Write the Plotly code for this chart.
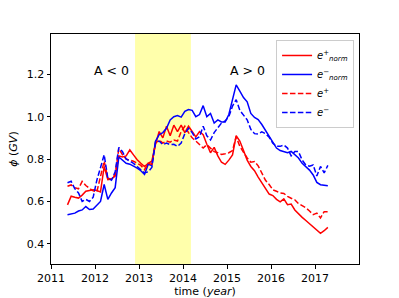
import plotly.graph_objects as go

# monthly time stamps (decimal years) May 2011 - Apr 2017
years_start = 2011.375
n_points = 72
time = [round(years_start + i / 12, 4) for i in range(n_points)]

e_pos_norm = [0.584, 0.625, 0.62, 0.616, 0.63, 0.648, 0.652, 0.655,
              0.652, 0.645, 0.765, 0.703, 0.706, 0.72, 0.815, 0.81, 0.815, 0.843, 0.82, 0.797,
              0.78, 0.765, 0.78, 0.79, 0.87, 0.93, 0.90, 0.955, 0.91, 0.96, 0.93, 0.96,
              0.925, 0.955, 0.93, 0.905, 0.93, 0.915, 0.87, 0.83, 0.855, 0.815, 0.785, 0.775,
              0.795, 0.82, 0.91, 0.885, 0.84, 0.795, 0.765, 0.745, 0.715, 0.69, 0.665, 0.635,
              0.628, 0.61, 0.598, 0.612, 0.585, 0.588, 0.56, 0.54, 0.525, 0.51, 0.495, 0.482,
              0.468, 0.45, 0.462, 0.478]

e_neg_norm = [0.537, 0.542, 0.545, 0.555, 0.560, 0.576, 0.562, 0.564,
              0.584, 0.60, 0.68, 0.61, 0.64, 0.665, 0.81, 0.795, 0.78, 0.776, 0.768, 0.757,
              0.745, 0.728, 0.775, 0.77, 0.884, 0.915, 0.925, 0.945, 0.985, 1.0, 1.005, 0.998,
              1.025, 1.034, 1.03, 1.0, 1.01, 1.052, 1.0, 1.015, 0.97, 0.985, 0.975, 0.975,
              1.01, 1.075, 1.15, 1.12, 1.09, 1.07, 1.015, 0.996, 0.986, 0.963, 0.935, 0.91,
              0.878, 0.852, 0.84, 0.836, 0.83, 0.836, 0.821, 0.805, 0.78, 0.764, 0.748, 0.725,
              0.69, 0.679, 0.677, 0.674]

e_pos = [0.672, 0.678, 0.665, 0.66, 0.695, 0.675, 0.662, 0.65,
         0.645, 0.72, 0.79, 0.71, 0.705, 0.728, 0.85, 0.82, 0.80, 0.795, 0.79, 0.78,
         0.77, 0.75, 0.78, 0.775, 0.875, 0.89, 0.875, 0.885, 0.88, 0.89, 0.885, 0.93,
         0.955, 0.925, 0.90, 0.885, 0.87, 0.852, 0.868, 0.85, 0.835, 0.83, 0.822, 0.825,
         0.83, 0.84, 0.905, 0.86, 0.83, 0.805, 0.785, 0.788, 0.768, 0.735, 0.70, 0.68,
         0.655, 0.648, 0.64, 0.638, 0.624, 0.615, 0.608, 0.59, 0.58, 0.57, 0.555, 0.538,
         0.545, 0.522, 0.552, 0.552]

e_neg = [0.688, 0.695, 0.66, 0.64, 0.60, 0.61, 0.60, 0.62,
         0.70, 0.76, 0.82, 0.71, 0.70, 0.74, 0.855, 0.835, 0.80, 0.79, 0.78, 0.765,
         0.75, 0.735, 0.74, 0.76, 0.88, 0.885, 0.868, 0.875, 0.868, 0.87, 0.86, 0.876,
         0.92, 0.945, 0.925, 0.895, 0.905, 0.955, 0.91, 0.89, 0.925, 0.95, 0.97, 0.98,
         1.00, 1.05, 1.08, 1.03, 1.01, 0.985, 0.94, 0.92, 0.918, 0.928, 0.92, 0.903,
         0.875, 0.86, 0.86, 0.866, 0.852, 0.815, 0.836, 0.835, 0.795, 0.772, 0.766, 0.772,
         0.72, 0.765, 0.735, 0.77]

x_ticks = [2011, 2012, 2013, 2014, 2015, 2016, 2017]
y_ticks = [0.4, 0.6, 0.8, 1.0, 1.2]
band = [2012.91, 2014.18]
annotations_text = ["A < 0", "A > 0"]
annotations_pos = [(2012.37, 1.218), (2015.47, 1.218)]

series = [
    ("<i>e</i><sup>+</sup><sub><i>norm</i></sub>", e_pos_norm, "#ff0000", "solid"),
    ("<i>e</i><sup>−</sup><sub><i>norm</i></sub>", e_neg_norm, "#0000ff", "solid"),
    ("<i>e</i><sup>+</sup>", e_pos, "#ff0000", "5.5px,2.4px"),
    ("<i>e</i><sup>−</sup>", e_neg, "#0000ff", "5.5px,2.4px"),
]

fig = go.Figure()
for name, vals, col, dash in series:
    fig.add_trace(go.Scatter(x=time, y=vals, mode="lines", name=name,
                             line=dict(color=col, width=1.5, dash=dash)))

fig.add_vrect(x0=band[0], x1=band[1], fillcolor="rgba(255,255,0,0.33)",
              line_width=0, layer="below")

for txt, (ax, ay) in zip(annotations_text, annotations_pos):
    fig.add_annotation(x=ax, y=ay, text=txt, showarrow=False,
                       font=dict(size=12.5, color="black"))

font_family = "DejaVu Sans"
fig.update_layout(
    width=399, height=298,
    margin=dict(l=51, r=40, t=34, b=34, autoexpand=False),
    paper_bgcolor="white", plot_bgcolor="white",
    font=dict(family=font_family, size=11, color="black"),
    showlegend=True,
    legend=dict(x=0.984, y=0.974, xanchor="right", yanchor="top",
                bgcolor="rgba(255,255,255,0.8)", bordercolor="#cccccc", borderwidth=1,
                font=dict(size=10), itemwidth=30, tracegroupgap=0),
    xaxis=dict(range=[2011, 2018], tickvals=x_ticks, ticktext=[str(v) for v in x_ticks],
               showgrid=False, zeroline=False, showline=True, mirror=True, automargin=False,
               linecolor="black", linewidth=1, ticks="outside", ticklen=3.5,
               tickcolor="black", tickfont=dict(size=11),
               title=dict(text="time (<i>year</i>)", standoff=2, font=dict(size=11))),
    yaxis=dict(range=[0.305, 1.39], tickvals=y_ticks, ticktext=[f"{v:.1f}" for v in y_ticks],
               showgrid=False, zeroline=False, showline=True, mirror=True, automargin=False,
               linecolor="black", linewidth=1, ticks="outside", ticklen=3.5,
               tickcolor="black", tickfont=dict(size=11),
               title=dict(text="<i>ϕ</i> (<i>GV</i>)", standoff=6, font=dict(size=11))),
)

fig.write_html("out.html", config={"displayModeBar": False},
               post_script="document.body.style.margin='0px';document.body.style.overflow='hidden';")
